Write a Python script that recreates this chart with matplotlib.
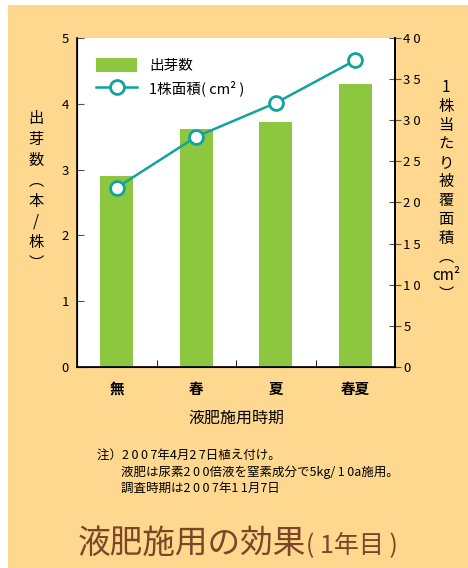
import re
import matplotlib
matplotlib.use("Agg")
import matplotlib.pyplot as plt
import matplotlib.patches as patches
from matplotlib.lines import Line2D
from matplotlib.ticker import FuncFormatter

plt.rcParams['font.family'] = ['Noto Sans CJK JP', 'DejaVu Sans']

# timing of liquid fertilizer application
categories = ['無', '春', '夏', '春夏']
# sprouts per plant (left axis)
sprouts = [2.9, 3.61, 3.72, 4.3]
# covered area per plant in cm2 (right axis)
area = [21.8, 28.0, 32.1, 37.3]

left_ticks = [0, 1, 2, 3, 4, 5]
right_ticks = [0, 5, 10, 15, 20, 25, 30, 35, 40]

notes = ['注）2007年4月27日植え付け。',
         '液肥は尿素200倍液を窒素成分で5kg/10a施用。',
         '調査時期は2007年11月7日']

BG = '#FED88F'
GREEN = '#8DC63F'
TEAL = '#12A39A'
BROWN = '#7B4526'


def spaced(v, pos=None):
    # wide letter spacing on the tick numbers
    return ' '.join(str(int(v)))


def spread_digits(s):
    # thin space between consecutive digits
    return re.sub(r'(?<=[0-9])(?=[0-9/])|(?<=/)(?=[0-9])', '\u2009', s)


fig = plt.figure(figsize=(4.68, 5.68), dpi=100)
fig.patch.set_facecolor('white')
fig.add_artist(patches.Rectangle((8 / 468, 0), 1, 1 - 5 / 568,
                                 transform=fig.transFigure,
                                 facecolor=BG, edgecolor='none', zorder=-10))

ax = fig.add_axes([77 / 468, 1 - 367 / 568, 318 / 468, 329 / 568])
ax.set_facecolor('white')
x = list(range(len(categories)))
ax.bar(x, sprouts, width=0.42, color=GREEN, zorder=2)
ax.axhline(0, color=BG, lw=1.5, zorder=1)

ax.set_xlim(-0.5, len(categories) - 0.5)
ax.set_ylim(0, 5)
ax.set_yticks(left_ticks)
ax.yaxis.set_major_formatter(FuncFormatter(spaced))
ax.tick_params(axis='y', direction='in', length=5, color='#555555',
               labelsize=9.5, pad=6)
ax.set_xticks(x)
ax.set_xticklabels(categories, fontsize=10.5, fontweight='bold')
ax.tick_params(axis='x', which='major', length=0, pad=10)
ax.set_xticks([0.5, 1.5, 2.5], minor=True)
ax.tick_params(axis='x', which='minor', direction='in', length=5)
ax.spines['top'].set_visible(False)
for s in ['left', 'bottom', 'right']:
    ax.spines[s].set_linewidth(1.2)

ax2 = ax.twinx()
ax2.plot(x, area, color=TEAL, lw=1.8, marker='o', markersize=10,
         markerfacecolor='white', markeredgecolor=TEAL, markeredgewidth=2,
         zorder=3)
ax2.set_ylim(0, 40)
ax2.set_yticks(right_ticks)
ax2.yaxis.set_major_formatter(FuncFormatter(spaced))
ax2.tick_params(axis='y', direction='inout', length=8, color='#555555',
                labelsize=9.5, pad=2)
ax2.spines['top'].set_visible(False)
ax2.spines['right'].set_linewidth(1.2)

handles = [patches.Patch(facecolor=GREEN, label='出芽数'),
           Line2D([], [], color=TEAL, lw=1.8, marker='o', markersize=10,
                  markerfacecolor='white', markeredgecolor=TEAL,
                  markeredgewidth=2, label='1株面積( cm² )')]
ax2.legend(handles=handles, loc='upper left', bbox_to_anchor=(0.02, 0.98),
           frameon=False, fontsize=10.5, handlelength=2.8, handleheight=1.1,
           labelspacing=0.5, handletextpad=0.8)

# vertical axis titles
fig.text(36 / 468, 1 - 191 / 568, '\n'.join(['出', '芽', '数', '︵', '本', '/', '株', '︶']),
         ha='center', va='center', fontsize=11, linespacing=1.28)
fig.text(446 / 468, 1 - 191 / 568,
         '\n'.join(['1', '株', '当', 'た', 'り', '被', '覆', '面', '積', '︵', 'cm²', '︶']),
         ha='center', va='center', fontsize=11, linespacing=1.14)

fig.text(236 / 468, 1 - 418 / 568, '液肥施用時期', ha='center', va='center',
         fontsize=11.5)

note_x = [97, 121, 121]
note_y = [455, 472, 488]
for nx, ny, line in zip(note_x, note_y, notes):
    fig.text(nx / 468, 1 - ny / 568, spread_digits(line),
             ha='left', va='center', fontsize=9)

t1 = fig.text(78 / 468, 1 - 544 / 568, '液肥施用の効果', ha='left', va='center',
              fontsize=23.5, color=BROWN)
fig.canvas.draw()
bb = t1.get_window_extent()
fig.text(bb.x1 / fig.bbox.width, 1 - 546 / 568, '( 1年目 )', ha='left',
         va='center', fontsize=18, color=BROWN)

fig.savefig('out.png', dpi=100, facecolor=fig.get_facecolor())
